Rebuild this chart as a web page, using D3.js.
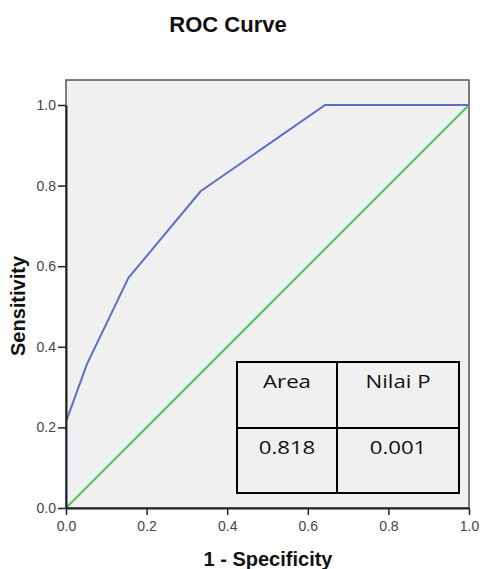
<!DOCTYPE html>
<html>
<head>
<meta charset="utf-8">
<script src="https://cdn.jsdelivr.net/npm/d3@7.9.0/dist/d3.min.js"></script>
<style>
  body { margin: 0; background: #fff; }
  svg { display: block; }
</style>
</head>
<body>
<svg width="480" height="569"></svg>
<script>
// ROC curve points
const fpr = [0, 0, 0.052, 0.155, 0.334, 0.643, 1];
const tpr = [0, 0.214, 0.357, 0.571, 0.786, 1, 1];
// reference line
const refX = [0, 1];
const refY = [0, 1];
const ticks = [0, 0.2, 0.4, 0.6, 0.8, 1.0];
const tableHead = ['Area', 'Nilai P'];
const tableVals = ['0.818', '0.001'];

const svg = d3.select('svg');
const x = d3.scaleLinear().domain([0, 1]).range([66, 469]);
const y = d3.scaleLinear().domain([0, 1]).range([508, 105]);

// plot background + frame
svg.append('rect')
  .attr('x', 66).attr('y', 80)
  .attr('width', 403).attr('height', 428)
  .attr('fill', '#f0f0f0')
  .attr('stroke', '#555').attr('stroke-width', 1.5);

const line = d3.line().x(d => x(d[0])).y(d => y(d[1]));

svg.append('path')
  .attr('d', line(d3.zip(refX, refY)))
  .attr('fill', 'none').attr('stroke', '#4cc456').attr('stroke-width', 2);

svg.append('path')
  .attr('d', line(d3.zip(fpr, tpr)))
  .attr('fill', 'none').attr('stroke', '#5b6fc4').attr('stroke-width', 2);

// axes
const xAxis = svg.append('g')
  .attr('transform', 'translate(0,508)')
  .call(d3.axisBottom(x).tickValues(ticks).tickFormat(d3.format('.1f')).tickSize(7).tickSizeOuter(0));
const yAxis = svg.append('g')
  .attr('transform', 'translate(66,0)')
  .call(d3.axisLeft(y).tickValues(ticks).tickFormat(d3.format('.1f')).tickSize(8).tickSizeOuter(0));

[xAxis, yAxis].forEach(g => {
  g.select('.domain').attr('stroke', '#222').attr('stroke-width', 2);
  g.selectAll('.tick line').attr('stroke', '#222').attr('stroke-width', 1.5);
  g.selectAll('.tick text')
    .attr('fill', '#444')
    .style('font-family', '"Liberation Sans", Arial, sans-serif')
    .style('font-size', '14px');
});
xAxis.selectAll('.tick text').attr('dy', '0.9em');
yAxis.selectAll('.tick text').attr('x', -10);

// titles
svg.append('text')
  .attr('x', 228).attr('y', 32)
  .attr('text-anchor', 'middle')
  .style('font-family', '"Liberation Sans", Arial, sans-serif')
  .style('font-weight', 'bold').style('font-size', '22px')
  .attr('fill', '#111')
  .text('ROC Curve');

svg.append('text')
  .attr('x', 268).attr('y', 566)
  .attr('text-anchor', 'middle')
  .style('font-family', '"Liberation Sans", Arial, sans-serif')
  .style('font-weight', 'bold').style('font-size', '20px')
  .attr('fill', '#111')
  .text('1 - Specificity');

svg.append('text')
  .attr('transform', 'translate(25,306) rotate(-90)')
  .attr('text-anchor', 'middle')
  .style('font-family', '"Liberation Sans", Arial, sans-serif')
  .style('font-weight', 'bold').style('font-size', '20px')
  .attr('fill', '#111')
  .text('Sensitivity');

// table inset
const tx = 237, ty = 362, tw = 222, th = 131;
const colX = [tx, 337, tx + tw];
const rowY = [ty, 428, ty + th];
const table = svg.append('g');
table.append('rect')
  .attr('x', tx).attr('y', ty).attr('width', tw).attr('height', th)
  .attr('fill', '#f0f0f0').attr('stroke', '#000').attr('stroke-width', 2);
table.append('line')
  .attr('x1', colX[1]).attr('x2', colX[1]).attr('y1', ty).attr('y2', ty + th)
  .attr('stroke', '#000').attr('stroke-width', 2);
table.append('line')
  .attr('x1', tx).attr('x2', tx + tw).attr('y1', rowY[1]).attr('y2', rowY[1])
  .attr('stroke', '#000').attr('stroke-width', 2);

// text in the table looks a little stretched sideways
[tableHead, tableVals].forEach((row, r) => {
  row.forEach((t, c) => {
    const cx = (colX[c] + colX[c + 1]) / 2;
    table.append('text')
      .attr('transform', `translate(${cx},${rowY[r] + 26}) scale(1.17,1)`)
      .attr('text-anchor', 'middle')
      .style('font-family', '"Open Sans", sans-serif')
      .style('font-size', '19px')
      .attr('fill', '#111')
      .text(t);
  });
});
</script>
</body>
</html>
